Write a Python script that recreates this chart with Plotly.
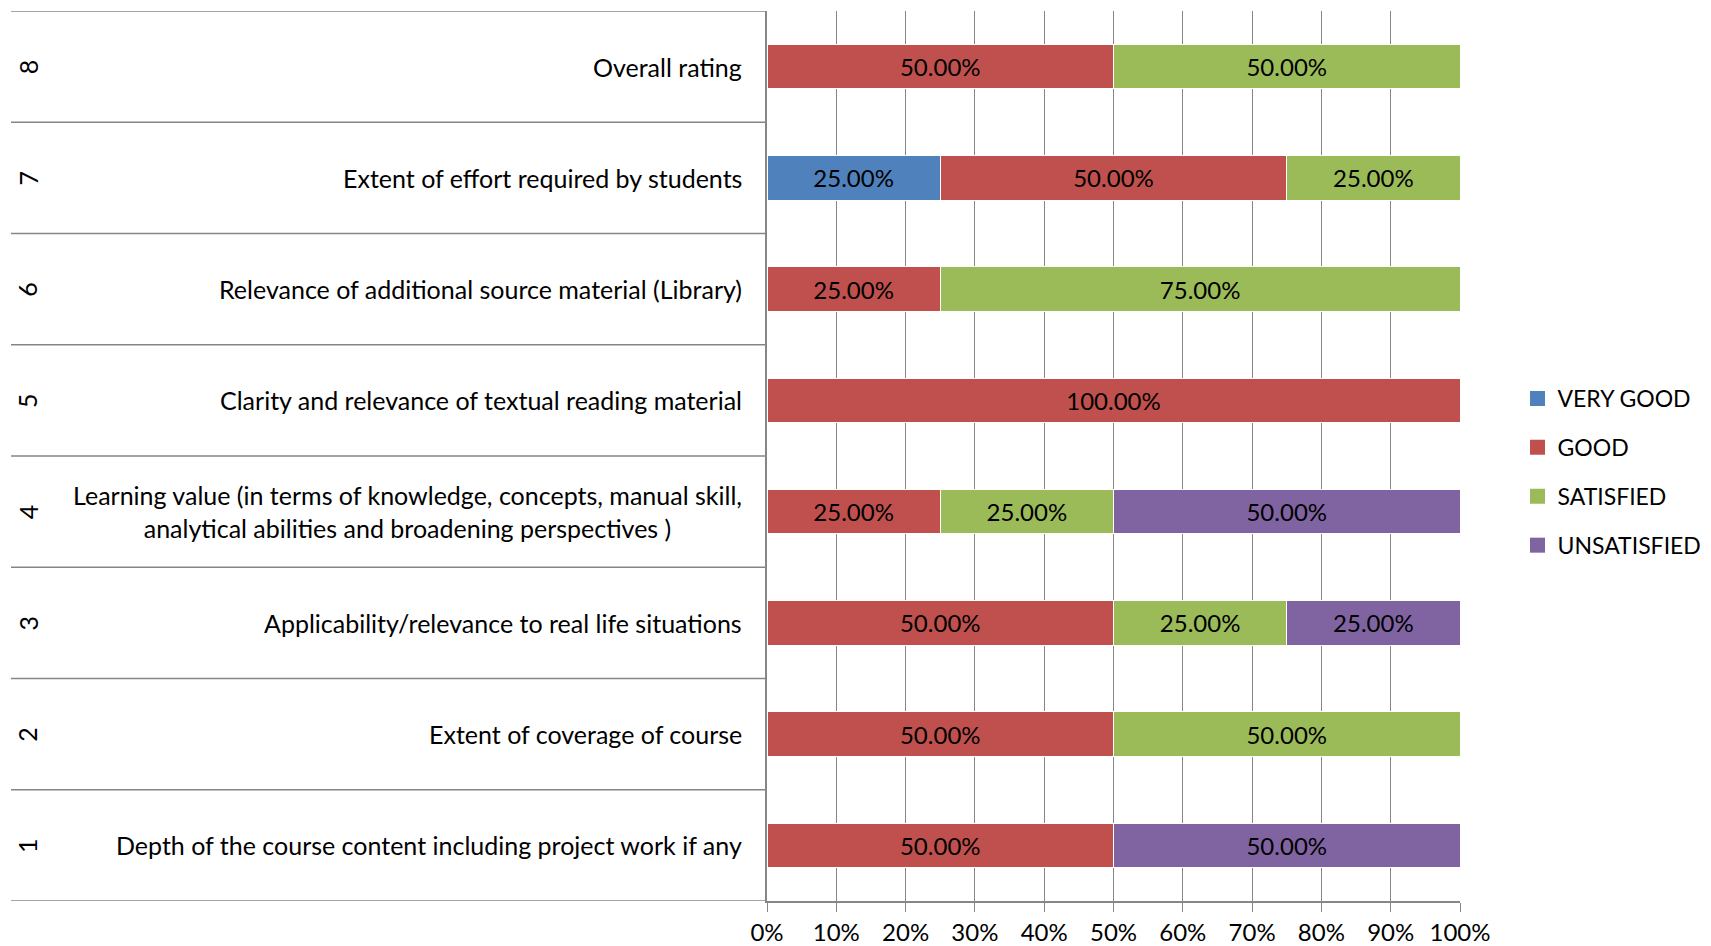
import plotly.graph_objects as go

# categories, bottom (1) to top (8)
numbers = ["1", "2", "3", "4", "5", "6", "7", "8"]
labels = [
    "Depth of the course content including project work if any",
    "Extent of coverage of course",
    "Applicability/relevance to real life situations",
    "Learning value (in terms of knowledge, concepts, manual skill,<br>analytical abilities and broadening perspectives )",
    "Clarity and relevance of textual reading material",
    "Relevance of additional source material (Library)",
    "Extent of effort required by students",
    "Overall rating",
]

very_good = [None, None, None, None, None, None, 0.25, None]
good = [0.50, 0.50, 0.50, 0.25, 1.00, 0.25, 0.50, 0.50]
satisfied = [None, 0.50, 0.25, 0.25, None, 0.75, 0.25, 0.50]
unsatisfied = [0.50, None, 0.25, 0.50, None, None, None, None]

series = [
    ("VERY GOOD", very_good, "#4F81BD"),
    ("GOOD", good, "#C0504D"),
    ("SATISFIED", satisfied, "#9BBB59"),
    ("UNSATISFIED", unsatisfied, "#8064A2"),
]

FONT = "Lato"
# page body adds an 8px offset, so the figure is 8px smaller than the window
W, H = 1703, 938
ML, MR, MT, MB = 759, 251, 3, 45
PW = W - ML - MR
LINE = "#868686"

ypos = list(range(1, len(numbers) + 1))

fig = go.Figure()
for name, vals, color in series:
    fig.add_trace(go.Bar(
        y=ypos, x=vals, name=name, orientation="h", width=0.4,
        marker=dict(color=color, line=dict(color="white", width=1)),
        texttemplate="%{x:.2%}", textposition="inside", insidetextanchor="middle",
        textfont=dict(family=FONT, size=24, color="black"),
        constraintext="none", legendgroup=name, showlegend=False,
    ))
    # square legend swatch, like the spreadsheet legend
    fig.add_trace(go.Scatter(
        x=[None], y=[None], mode="markers", name=name, legendgroup=name,
        marker=dict(symbol="square", size=15, color=color),
    ))

# row separators running under the label panel
for i in range(len(numbers) + 1):
    fig.add_shape(type="line", xref="paper", yref="y",
                  x0=(3 - ML) / PW, x1=0, y0=i + 0.5, y1=i + 0.5,
                  line=dict(color=LINE, width=1.5))

for y, num, lab in zip(ypos, numbers, labels):
    fig.add_annotation(xref="paper", yref="y", x=-23 / PW, y=y, text=lab,
                       xanchor="right", align="center", showarrow=False,
                       font=dict(family=FONT, size=25, color="black"))
    fig.add_annotation(xref="paper", yref="y", x=(19.5 - ML) / PW, y=y, text=num,
                       textangle=-90, xanchor="center", yanchor="middle",
                       showarrow=False,
                       font=dict(family=FONT, size=25, color="black"))

fig.update_layout(
    width=W, height=H, barmode="stack",
    margin=dict(l=ML, r=MR, t=MT, b=MB, autoexpand=False),
    plot_bgcolor="white", paper_bgcolor="white",
    font=dict(family=FONT, size=22, color="black"),
    xaxis=dict(range=[0, 1], tickformat=".0%", dtick=0.1, showgrid=True,
               gridcolor=LINE, gridwidth=1, showline=True, linecolor=LINE,
               linewidth=1.5, ticks="outside", ticklen=9, tickcolor=LINE,
               zeroline=False, tickfont=dict(size=24), automargin=False),
    yaxis=dict(range=[0.5, len(numbers) + 0.5], showticklabels=False,
               showline=True, linecolor=LINE, linewidth=1.5, showgrid=False,
               zeroline=False, automargin=False),
    legend=dict(x=1.083, y=0.482, xanchor="left", yanchor="middle",
                traceorder="grouped", tracegroupgap=16, itemwidth=30,
                font=dict(size=23)),
    showlegend=True,
)

fig.write_html("out.html")
